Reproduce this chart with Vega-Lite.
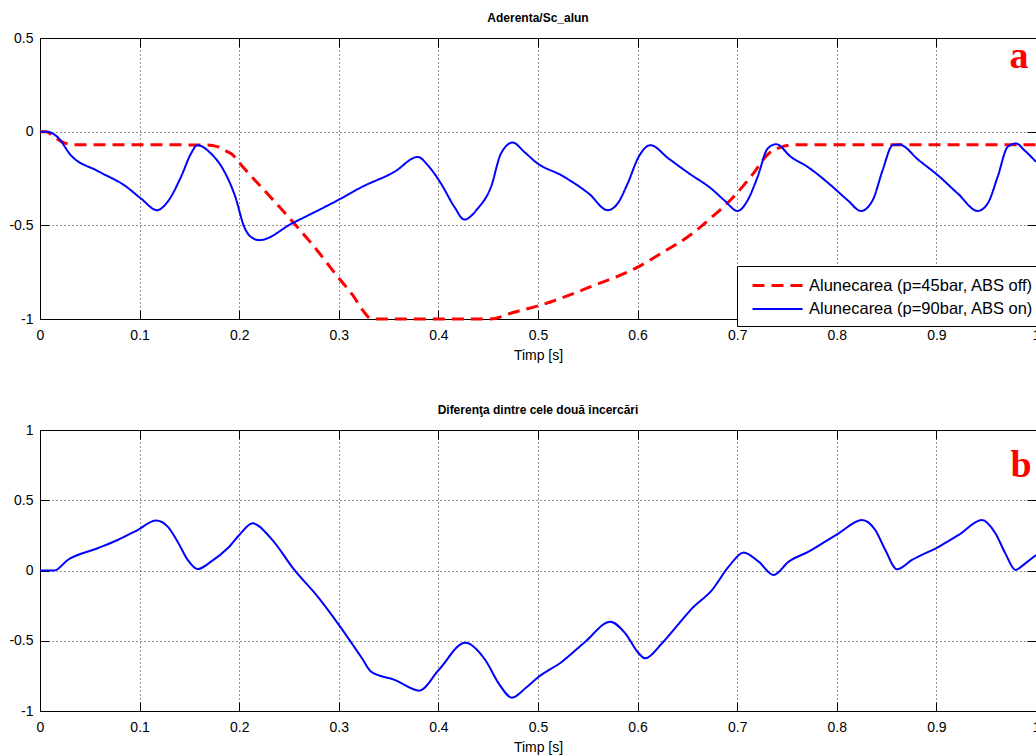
{
  "$schema": "https://vega.github.io/schema/vega-lite/v6.json",
  "padding": {"left": 8, "top": 11, "right": 0, "bottom": 0},
  "background": "white",
  "config": {
    "font": "Liberation Sans",
    "view": {"stroke": "#000000", "strokeWidth": 1},
    "axis": {
      "domain": false,
      "labelFont": "Liberation Sans",
      "labelFontSize": 14,
      "labelColor": "#000000",
      "titleFont": "Liberation Sans",
      "titleFontSize": 14,
      "titleFontWeight": "normal",
      "titleColor": "#000000",
      "tickColor": "#000000",
      "tickSize": -9,
      "gridColor": "#000000",
      "gridDash": [1, 3],
      "gridOpacity": 0.85,
      "gridWidth": 1
    },
    "legend": {
      "title": null, "orient": "none", "legendX": 697, "legendY": 228,
      "strokeColor": "#000000", "fillColor": "#ffffff", "padding": 8,
      "labelFont": "Liberation Sans", "labelFontSize": 16.5, "labelColor": "#000000", "labelLimit": 400,
      "symbolSize": 400, "symbolType": "M-2.5,0L2.5,0", "symbolOffset": 21, "rowPadding": 4, "labelOffset": 20, "cornerRadius": 0
    },
    "title": {"font": "Liberation Sans", "fontSize": 12, "fontWeight": "bold", "color": "#000000", "offset": 6}
  },
  "resolve": {"scale": {"color": "independent", "strokeDash": "independent", "strokeWidth": "independent"}},
  "spacing": 40,
  "datasets": {
    "top": [
      {"s": "Alunecarea (p=45bar, ABS off)", "t": 0, "v": 0},
      {"s": "Alunecarea (p=45bar, ABS off)", "t": 0.006, "v": 0},
      {"s": "Alunecarea (p=45bar, ABS off)", "t": 0.0144, "v": -0.028},
      {"s": "Alunecarea (p=45bar, ABS off)", "t": 0.0244, "v": -0.06},
      {"s": "Alunecarea (p=45bar, ABS off)", "t": 0.0378, "v": -0.07},
      {"s": "Alunecarea (p=45bar, ABS off)", "t": 0.1, "v": -0.07},
      {"s": "Alunecarea (p=45bar, ABS off)", "t": 0.168, "v": -0.071},
      {"s": "Alunecarea (p=45bar, ABS off)", "t": 0.178, "v": -0.08},
      {"s": "Alunecarea (p=45bar, ABS off)", "t": 0.185, "v": -0.099},
      {"s": "Alunecarea (p=45bar, ABS off)", "t": 0.1918, "v": -0.117},
      {"s": "Alunecarea (p=45bar, ABS off)", "t": 0.2051, "v": -0.197},
      {"s": "Alunecarea (p=45bar, ABS off)", "t": 0.2252, "v": -0.313},
      {"s": "Alunecarea (p=45bar, ABS off)", "t": 0.2553, "v": -0.49},
      {"s": "Alunecarea (p=45bar, ABS off)", "t": 0.2754, "v": -0.615},
      {"s": "Alunecarea (p=45bar, ABS off)", "t": 0.299, "v": -0.775},
      {"s": "Alunecarea (p=45bar, ABS off)", "t": 0.314, "v": -0.873},
      {"s": "Alunecarea (p=45bar, ABS off)", "t": 0.325, "v": -0.96},
      {"s": "Alunecarea (p=45bar, ABS off)", "t": 0.331, "v": -0.995},
      {"s": "Alunecarea (p=45bar, ABS off)", "t": 0.336, "v": -1},
      {"s": "Alunecarea (p=45bar, ABS off)", "t": 0.452, "v": -1},
      {"s": "Alunecarea (p=45bar, ABS off)", "t": 0.475, "v": -0.965},
      {"s": "Alunecarea (p=45bar, ABS off)", "t": 0.5, "v": -0.93},
      {"s": "Alunecarea (p=45bar, ABS off)", "t": 0.5174, "v": -0.9},
      {"s": "Alunecarea (p=45bar, ABS off)", "t": 0.5565, "v": -0.82},
      {"s": "Alunecarea (p=45bar, ABS off)", "t": 0.5977, "v": -0.73},
      {"s": "Alunecarea (p=45bar, ABS off)", "t": 0.6235, "v": -0.65},
      {"s": "Alunecarea (p=45bar, ABS off)", "t": 0.6546, "v": -0.545},
      {"s": "Alunecarea (p=45bar, ABS off)", "t": 0.6747, "v": -0.455},
      {"s": "Alunecarea (p=45bar, ABS off)", "t": 0.6948, "v": -0.357},
      {"s": "Alunecarea (p=45bar, ABS off)", "t": 0.7149, "v": -0.232},
      {"s": "Alunecarea (p=45bar, ABS off)", "t": 0.7316, "v": -0.117},
      {"s": "Alunecarea (p=45bar, ABS off)", "t": 0.745, "v": -0.081},
      {"s": "Alunecarea (p=45bar, ABS off)", "t": 0.7583, "v": -0.07},
      {"s": "Alunecarea (p=45bar, ABS off)", "t": 1, "v": -0.07},
      {"s": "Alunecarea (p=90bar, ABS on)", "t": 0, "v": 0},
      {"s": "Alunecarea (p=90bar, ABS on)", "t": 0.006, "v": 0},
      {"s": "Alunecarea (p=90bar, ABS on)", "t": 0.0175, "v": -0.028},
      {"s": "Alunecarea (p=90bar, ABS on)", "t": 0.031, "v": -0.126},
      {"s": "Alunecarea (p=90bar, ABS on)", "t": 0.058, "v": -0.21},
      {"s": "Alunecarea (p=90bar, ABS on)", "t": 0.0857, "v": -0.29},
      {"s": "Alunecarea (p=90bar, ABS on)", "t": 0.1014, "v": -0.357},
      {"s": "Alunecarea (p=90bar, ABS on)", "t": 0.1175, "v": -0.419},
      {"s": "Alunecarea (p=90bar, ABS on)", "t": 0.128, "v": -0.375},
      {"s": "Alunecarea (p=90bar, ABS on)", "t": 0.1416, "v": -0.241},
      {"s": "Alunecarea (p=90bar, ABS on)", "t": 0.1516, "v": -0.117},
      {"s": "Alunecarea (p=90bar, ABS on)", "t": 0.158, "v": -0.072},
      {"s": "Alunecarea (p=90bar, ABS on)", "t": 0.1717, "v": -0.117},
      {"s": "Alunecarea (p=90bar, ABS on)", "t": 0.1844, "v": -0.206},
      {"s": "Alunecarea (p=90bar, ABS on)", "t": 0.1961, "v": -0.348},
      {"s": "Alunecarea (p=90bar, ABS on)", "t": 0.2051, "v": -0.509},
      {"s": "Alunecarea (p=90bar, ABS on)", "t": 0.2118, "v": -0.562},
      {"s": "Alunecarea (p=90bar, ABS on)", "t": 0.2202, "v": -0.579},
      {"s": "Alunecarea (p=90bar, ABS on)", "t": 0.253, "v": -0.49},
      {"s": "Alunecarea (p=90bar, ABS on)", "t": 0.299, "v": -0.366},
      {"s": "Alunecarea (p=90bar, ABS on)", "t": 0.3233, "v": -0.295},
      {"s": "Alunecarea (p=90bar, ABS on)", "t": 0.3557, "v": -0.215},
      {"s": "Alunecarea (p=90bar, ABS on)", "t": 0.3793, "v": -0.135},
      {"s": "Alunecarea (p=90bar, ABS on)", "t": 0.3893, "v": -0.179},
      {"s": "Alunecarea (p=90bar, ABS on)", "t": 0.4026, "v": -0.277},
      {"s": "Alunecarea (p=90bar, ABS on)", "t": 0.416, "v": -0.401},
      {"s": "Alunecarea (p=90bar, ABS on)", "t": 0.426, "v": -0.469},
      {"s": "Alunecarea (p=90bar, ABS on)", "t": 0.4395, "v": -0.41},
      {"s": "Alunecarea (p=90bar, ABS on)", "t": 0.4528, "v": -0.295},
      {"s": "Alunecarea (p=90bar, ABS on)", "t": 0.4628, "v": -0.117},
      {"s": "Alunecarea (p=90bar, ABS on)", "t": 0.4746, "v": -0.058},
      {"s": "Alunecarea (p=90bar, ABS on)", "t": 0.4862, "v": -0.108},
      {"s": "Alunecarea (p=90bar, ABS on)", "t": 0.4996, "v": -0.17},
      {"s": "Alunecarea (p=90bar, ABS on)", "t": 0.5231, "v": -0.232},
      {"s": "Alunecarea (p=90bar, ABS on)", "t": 0.5509, "v": -0.33},
      {"s": "Alunecarea (p=90bar, ABS on)", "t": 0.57, "v": -0.419},
      {"s": "Alunecarea (p=90bar, ABS on)", "t": 0.58, "v": -0.383},
      {"s": "Alunecarea (p=90bar, ABS on)", "t": 0.59, "v": -0.277},
      {"s": "Alunecarea (p=90bar, ABS on)", "t": 0.601, "v": -0.135},
      {"s": "Alunecarea (p=90bar, ABS on)", "t": 0.6127, "v": -0.072},
      {"s": "Alunecarea (p=90bar, ABS on)", "t": 0.631, "v": -0.143},
      {"s": "Alunecarea (p=90bar, ABS on)", "t": 0.6514, "v": -0.222},
      {"s": "Alunecarea (p=90bar, ABS on)", "t": 0.6737, "v": -0.303},
      {"s": "Alunecarea (p=90bar, ABS on)", "t": 0.687, "v": -0.366},
      {"s": "Alunecarea (p=90bar, ABS on)", "t": 0.7005, "v": -0.423},
      {"s": "Alunecarea (p=90bar, ABS on)", "t": 0.7105, "v": -0.366},
      {"s": "Alunecarea (p=90bar, ABS on)", "t": 0.7205, "v": -0.241},
      {"s": "Alunecarea (p=90bar, ABS on)", "t": 0.7306, "v": -0.09},
      {"s": "Alunecarea (p=90bar, ABS on)", "t": 0.739, "v": -0.067},
      {"s": "Alunecarea (p=90bar, ABS on)", "t": 0.754, "v": -0.135},
      {"s": "Alunecarea (p=90bar, ABS on)", "t": 0.7707, "v": -0.188},
      {"s": "Alunecarea (p=90bar, ABS on)", "t": 0.794, "v": -0.286},
      {"s": "Alunecarea (p=90bar, ABS on)", "t": 0.8109, "v": -0.366},
      {"s": "Alunecarea (p=90bar, ABS on)", "t": 0.8243, "v": -0.423},
      {"s": "Alunecarea (p=90bar, ABS on)", "t": 0.836, "v": -0.366},
      {"s": "Alunecarea (p=90bar, ABS on)", "t": 0.846, "v": -0.206},
      {"s": "Alunecarea (p=90bar, ABS on)", "t": 0.8561, "v": -0.072},
      {"s": "Alunecarea (p=90bar, ABS on)", "t": 0.8627, "v": -0.069},
      {"s": "Alunecarea (p=90bar, ABS on)", "t": 0.8822, "v": -0.152},
      {"s": "Alunecarea (p=90bar, ABS on)", "t": 0.9013, "v": -0.232},
      {"s": "Alunecarea (p=90bar, ABS on)", "t": 0.9214, "v": -0.33},
      {"s": "Alunecarea (p=90bar, ABS on)", "t": 0.9415, "v": -0.423},
      {"s": "Alunecarea (p=90bar, ABS on)", "t": 0.9515, "v": -0.383},
      {"s": "Alunecarea (p=90bar, ABS on)", "t": 0.9615, "v": -0.241},
      {"s": "Alunecarea (p=90bar, ABS on)", "t": 0.9716, "v": -0.081},
      {"s": "Alunecarea (p=90bar, ABS on)", "t": 0.98, "v": -0.063},
      {"s": "Alunecarea (p=90bar, ABS on)", "t": 0.9883, "v": -0.099},
      {"s": "Alunecarea (p=90bar, ABS on)", "t": 1, "v": -0.161}
    ],
    "diff": [
      {"t": 0, "v": 0}, {"t": 0.0144, "v": 0}, {"t": 0.0278, "v": 0.075}, {"t": 0.0579, "v": 0.158},
      {"t": 0.078, "v": 0.217}, {"t": 0.098, "v": 0.288}, {"t": 0.1165, "v": 0.355}, {"t": 0.1282, "v": 0.312},
      {"t": 0.1382, "v": 0.205}, {"t": 0.1483, "v": 0.075}, {"t": 0.1583, "v": 0.01}, {"t": 0.1717, "v": 0.063},
      {"t": 0.1884, "v": 0.158}, {"t": 0.2001, "v": 0.253}, {"t": 0.2135, "v": 0.336}, {"t": 0.2319, "v": 0.229},
      {"t": 0.2554, "v": 0.004}, {"t": 0.2788, "v": -0.186}, {"t": 0.299, "v": -0.376}, {"t": 0.3233, "v": -0.625},
      {"t": 0.3323, "v": -0.72}, {"t": 0.3567, "v": -0.78}, {"t": 0.3808, "v": -0.855}, {"t": 0.4003, "v": -0.708},
      {"t": 0.427, "v": -0.514}, {"t": 0.4471, "v": -0.637}, {"t": 0.4605, "v": -0.803}, {"t": 0.4739, "v": -0.905},
      {"t": 0.4873, "v": -0.838}, {"t": 0.5007, "v": -0.756}, {"t": 0.5241, "v": -0.649}, {"t": 0.5475, "v": -0.507},
      {"t": 0.5726, "v": -0.364}, {"t": 0.5876, "v": -0.447}, {"t": 0.601, "v": -0.589}, {"t": 0.6077, "v": -0.625},
      {"t": 0.6245, "v": -0.518}, {"t": 0.6446, "v": -0.352}, {"t": 0.6546, "v": -0.27}, {"t": 0.6747, "v": -0.139},
      {"t": 0.6914, "v": 0.027}, {"t": 0.7065, "v": 0.129}, {"t": 0.7215, "v": 0.063}, {"t": 0.7366, "v": -0.032},
      {"t": 0.7517, "v": 0.063}, {"t": 0.7717, "v": 0.134}, {"t": 0.8019, "v": 0.265}, {"t": 0.8253, "v": 0.359},
      {"t": 0.8386, "v": 0.288}, {"t": 0.8487, "v": 0.146}, {"t": 0.8604, "v": 0.009}, {"t": 0.8755, "v": 0.075},
      {"t": 0.9023, "v": 0.169}, {"t": 0.9224, "v": 0.253}, {"t": 0.9458, "v": 0.359}, {"t": 0.9592, "v": 0.265},
      {"t": 0.9692, "v": 0.122}, {"t": 0.9793, "v": 0.004}, {"t": 0.9893, "v": 0.051}, {"t": 1, "v": 0.11}
    ],
    "letters": [
      {"p": "a", "t": 0.983, "v": 0.34},
      {"p": "b", "t": 0.985, "v": 0.665}
    ]
  },
  "vconcat": [
    {
      "width": 996,
      "height": 281,
      "title": {"text": "Aderenta/Sc_alun"},
      "layer": [
        {
          "data": {"name": "top"},
          "mark": {"type": "line", "interpolate": "monotone"},
          "encoding": {
            "x": {"field": "t", "type": "quantitative", "scale": {"domain": [0, 1], "nice": false},
                  "axis": {"orient": "bottom", "values": [0, 0.1, 0.2, 0.3, 0.4, 0.5, 0.6, 0.7, 0.8, 0.9, 1], "format": "~g", "title": "Timp [s]", "grid": true, "labelPadding": 18, "titlePadding": 6, "labelFlush": false}},
            "y": {"field": "v", "type": "quantitative", "scale": {"domain": [-1, 0.5], "nice": false, "zero": false},
                  "axis": {"orient": "left", "values": [-1, -0.5, 0, 0.5], "format": "~g", "title": null, "grid": true, "labelPadding": 16, "labelExpr": "replace(datum.label, '−', '-')"}},
            "color": {"field": "s", "type": "nominal",
                      "scale": {"domain": ["Alunecarea (p=45bar, ABS off)", "Alunecarea (p=90bar, ABS on)"], "range": ["#ff0000", "#0000ff"]},
                      "legend": {"title": null}},
            "strokeDash": {"field": "s", "type": "nominal",
                      "scale": {"domain": ["Alunecarea (p=45bar, ABS off)", "Alunecarea (p=90bar, ABS on)"], "range": [[12, 7], [1, 0]]},
                      "legend": {"title": null}},
            "strokeWidth": {"field": "s", "type": "nominal",
                      "scale": {"domain": ["Alunecarea (p=45bar, ABS off)", "Alunecarea (p=90bar, ABS on)"], "range": [3, 2]},
                      "legend": {"title": null}}
          }
        },
        {
          "data": {"name": "letters"},
          "transform": [{"filter": "datum.p == 'a'"}],
          "mark": {"type": "text", "font": "Liberation Serif", "fontWeight": "bold", "fontSize": 38, "color": "#ff0000", "align": "center", "baseline": "alphabetic"},
          "encoding": {
            "x": {"field": "t", "type": "quantitative", "axis": {"orient": "top", "values": [0, 0.1, 0.2, 0.3, 0.4, 0.5, 0.6, 0.7, 0.8, 0.9, 1], "labels": false, "grid": false, "title": null}},
            "y": {"field": "v", "type": "quantitative", "axis": {"orient": "right", "values": [-1, -0.5, 0, 0.5], "labels": false, "grid": false, "title": null}},
            "text": {"field": "p"}
          }
        }
      ]
    },
    {
      "width": 996,
      "height": 281,
      "title": {"text": "Diferenţa dintre cele două încercări"},
      "layer": [
        {
          "data": {"name": "diff"},
          "mark": {"type": "line", "interpolate": "monotone", "color": "#0000ff", "strokeWidth": 2},
          "encoding": {
            "x": {"field": "t", "type": "quantitative", "scale": {"domain": [0, 1], "nice": false},
                  "axis": {"orient": "bottom", "values": [0, 0.1, 0.2, 0.3, 0.4, 0.5, 0.6, 0.7, 0.8, 0.9, 1], "format": "~g", "title": "Timp [s]", "grid": true, "labelPadding": 18, "titlePadding": 6, "labelFlush": false}},
            "y": {"field": "v", "type": "quantitative", "scale": {"domain": [-1, 1], "nice": false, "zero": false},
                  "axis": {"orient": "left", "values": [-1, -0.5, 0, 0.5, 1], "format": "~g", "title": null, "grid": true, "labelPadding": 16, "labelExpr": "replace(datum.label, '−', '-')"}}
          }
        },
        {
          "data": {"name": "letters"},
          "transform": [{"filter": "datum.p == 'b'"}],
          "mark": {"type": "text", "font": "Liberation Serif", "fontWeight": "bold", "fontSize": 38, "color": "#ff0000", "align": "center", "baseline": "alphabetic"},
          "encoding": {
            "x": {"field": "t", "type": "quantitative", "axis": {"orient": "top", "values": [0, 0.1, 0.2, 0.3, 0.4, 0.5, 0.6, 0.7, 0.8, 0.9, 1], "labels": false, "grid": false, "title": null}},
            "y": {"field": "v", "type": "quantitative", "axis": {"orient": "right", "values": [-1, -0.5, 0, 0.5, 1], "labels": false, "grid": false, "title": null}},
            "text": {"field": "p"}
          }
        }
      ]
    }
  ]
}
